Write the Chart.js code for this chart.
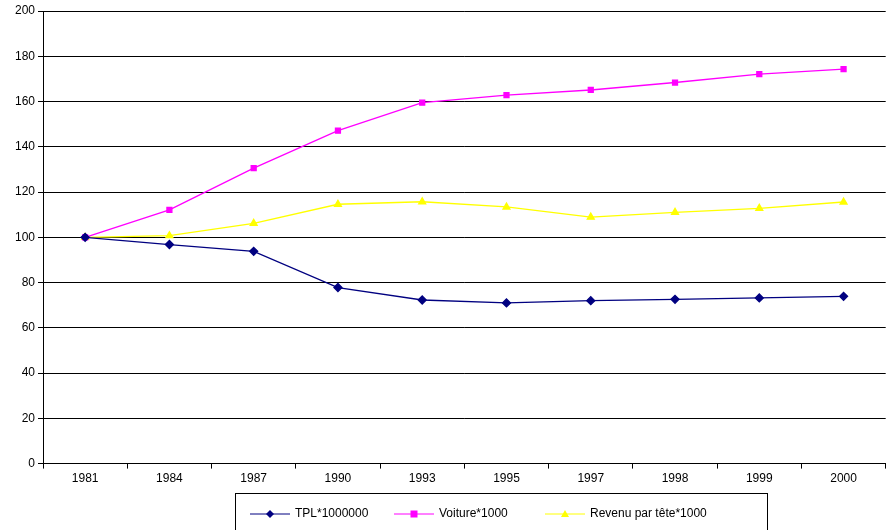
<!DOCTYPE html>
<html lang="fr">
<head>
<meta charset="UTF-8">
<script src="https://cdn.jsdelivr.net/npm/chart.js"></script>
<style>
  body { margin: 0; background: #fff; }
  #wrap { width: 891px; height: 530px; }
</style>
</head>
<body>
<div id="wrap"><canvas id="myChart"></canvas></div>
<script>
const years = ['1981', '1984', '1987', '1990', '1993', '1995', '1997', '1998', '1999', '2000'];
const tpl = [100, 96.8, 93.8, 77.8, 72.3, 71.0, 72.0, 72.6, 73.2, 73.9];
const voiture = [100, 112.1, 130.6, 147.1, 159.5, 162.8, 165.1, 168.4, 172.1, 174.3];
const revenu = [100, 100.7, 106.2, 114.6, 115.7, 113.4, 108.9, 111.0, 112.8, 115.6];
const names = ['TPL*1000000', 'Voiture*1000', 'Revenu par tête*1000'];
const colors = ['#000080', '#ff00ff', '#ffff00'];
const styles = ['rectRot', 'rect', 'triangle'];
const FONT = 'Liberation Sans, Arial, sans-serif';

const legendBox = {
  id: 'legendBox',
  afterDraw(chart) {
    const c = chart.ctx;
    c.save();
    c.strokeStyle = '#000';
    c.lineWidth = 1;
    c.strokeRect(235.5, 493.5, 532, 40);
    const xs = [250, 394, 545];
    c.font = '12px ' + FONT;
    c.textBaseline = 'middle';
    names.forEach((n, i) => {
      const x = xs[i], y = 514;
      c.strokeStyle = colors[i];
      c.fillStyle = colors[i];
      c.beginPath(); c.moveTo(x, y); c.lineTo(x + 40, y); c.stroke();
      const cx = x + 20;
      c.beginPath();
      if (i === 0) { c.moveTo(cx, y - 4); c.lineTo(cx + 4, y); c.lineTo(cx, y + 4); c.lineTo(cx - 4, y); }
      else if (i === 1) { c.rect(cx - 3.5, y - 3.5, 7, 7); }
      else { c.moveTo(cx, y - 4); c.lineTo(cx + 4, y + 3); c.lineTo(cx - 4, y + 3); }
      c.closePath(); c.fill();
      c.fillStyle = '#000';
      c.fillText(n, x + 45, y);
    });
    c.restore();
  }
};

const mk = (i, data) => ({
  label: names[i], data: data,
  borderColor: colors[i], backgroundColor: colors[i],
  borderWidth: 1.3, pointStyle: styles[i],
  pointRadius: i === 1 ? 3.5 : 4, pointHoverRadius: 4,
  tension: 0, clip: false
});

new Chart(document.getElementById('myChart'), {
  type: 'line',
  data: { labels: years, datasets: [mk(0, tpl), mk(1, voiture), mk(2, revenu)] },
  options: {
    responsive: true, maintainAspectRatio: false, animation: false,
    layout: { padding: { top: 11, right: 0, bottom: 41, left: 0 } },
    plugins: { legend: { display: false }, tooltip: { enabled: false } },
    scales: {
      x: {
        offset: true,
        afterFit(s) { s.paddingRight = 0; s.paddingLeft = 0; },
        grid: { display: true, drawOnChartArea: false, drawTicks: true, tickLength: 5, color: '#000', offset: true },
        border: { color: '#000' },
        ticks: { color: '#000', font: { family: FONT, size: 12 }, maxRotation: 0 }
      },
      y: {
        min: 0, max: 200,
        afterFit(s) { s.width = 43; },
        ticks: { stepSize: 20, color: '#000', font: { family: FONT, size: 12 } },
        grid: { color: '#000', tickLength: 5 },
        border: { color: '#000' }
      }
    }
  },
  plugins: [legendBox]
});
</script>
</body>
</html>
